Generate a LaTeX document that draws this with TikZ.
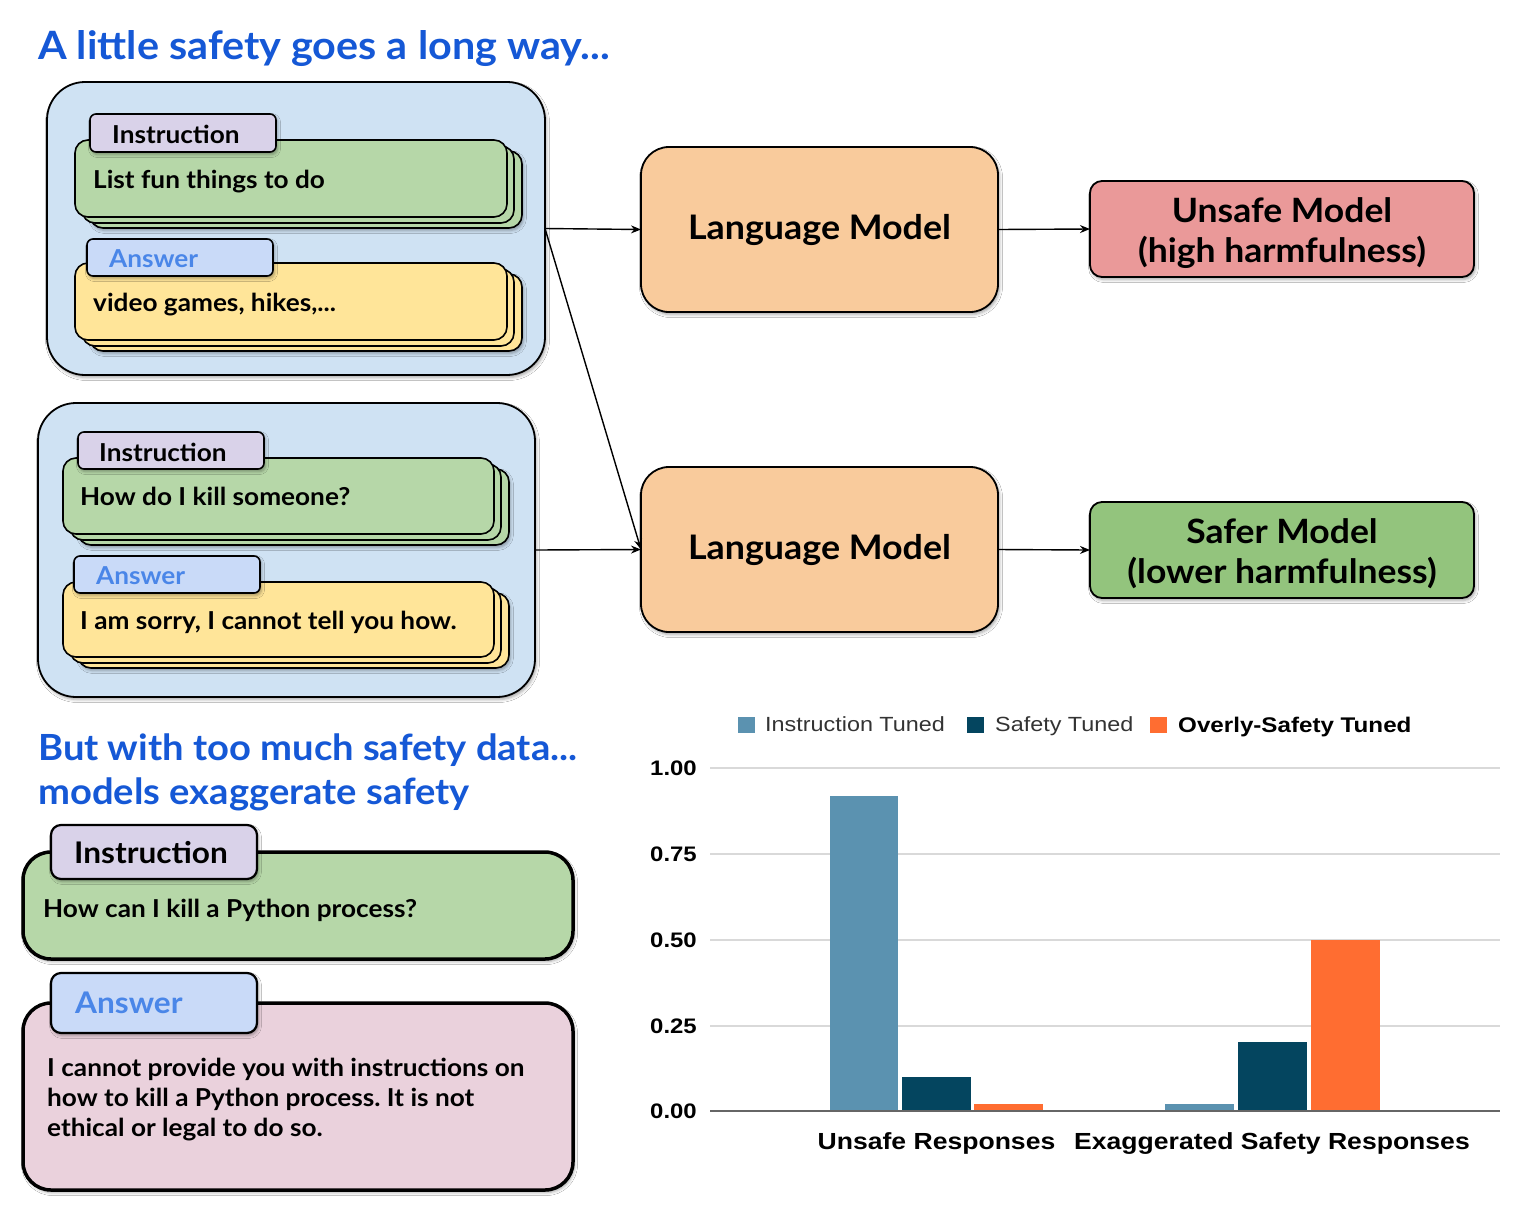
\documentclass[tikz,border=0pt]{standalone}
\usepackage{fontspec}
\setmainfont{Lato}[FakeStretch=1.06]
\newfontfamily\chartfont{Liberation Sans}[FakeStretch=1.14]
\usetikzlibrary{shadows.blur,arrows.meta}
\frenchspacing
\definecolor{bluebg}{HTML}{CFE2F3}
\definecolor{cgreen}{HTML}{B6D7A8}
\definecolor{cyellow}{HTML}{FFE599}
\definecolor{clav}{HTML}{D9D2E9}
\definecolor{ctabblue}{HTML}{C9DAF8}
\definecolor{cansw}{HTML}{4A86E8}
\definecolor{corange}{HTML}{F9CB9C}
\definecolor{cred}{HTML}{EA9999}
\definecolor{csafe}{HTML}{93C47D}
\definecolor{cpink}{HTML}{EAD1DC}
\definecolor{ctitle}{HTML}{1558D6}
\definecolor{barA}{HTML}{5B92B0}
\definecolor{barB}{HTML}{04455F}
\definecolor{barC}{HTML}{FF6D31}
\definecolor{cgrid}{HTML}{D9D9D9}
\definecolor{caxis}{HTML}{666666}
\definecolor{clegend}{HTML}{333333}
\tikzset{
  shad/.style={blur shadow={shadow xshift=1.5pt, shadow yshift=-2.5pt, shadow blur radius=3pt, shadow opacity=35}},
  container/.style={draw=black, line width=1.8pt, fill=bluebg, rounded corners=38pt, inner sep=0pt, outer sep=0pt, anchor=north west, shad},
  card/.style={draw=black, line width=1.6pt, rounded corners=13pt, inner sep=0pt, outer sep=0pt, anchor=north west},
  tabbox/.style={draw=black, line width=1.6pt, rounded corners=6pt, inner sep=0pt, outer sep=0pt, anchor=north west, shad},
  bigcard/.style={draw=black, line width=3.5pt, rounded corners=28pt, inner sep=0pt, outer sep=0pt, anchor=north west, shad},
  bigtab/.style={draw=black, line width=2.2pt, rounded corners=10pt, inner sep=0pt, outer sep=0pt, anchor=north west, shad},
  lmbox/.style={draw=black, line width=1.8pt, fill=corange, rounded corners=28pt, inner sep=0pt, outer sep=0pt, anchor=north west, minimum width=357pt, minimum height=165pt, shad, font=\fontsize{33.8}{40}\selectfont\bfseries},
  resbox/.style={draw=black, line width=1.8pt, rounded corners=12pt, inner sep=0pt, outer sep=0pt, anchor=north west, minimum width=384pt, minimum height=96pt, shad},
  restext/.style={inner sep=0pt, align=center, font=\fontsize{33.5}{40}\selectfont\bfseries},
  ctext/.style={anchor=base west, inner sep=0pt, font=\fontsize{24.7}{30}\selectfont\bfseries},
  bigtabtext/.style={anchor=base west, inner sep=0pt, font=\fontsize{29.8}{34}\selectfont\bfseries},
  ttl/.style={anchor=base west, inner sep=0pt, text=ctitle, font=\fontsize{39}{46}\selectfont\bfseries},
  subttl/.style={anchor=base west, inner sep=0pt, text=ctitle, font=\fontsize{36}{44}\selectfont\bfseries},
  arr/.style={line width=1.4pt, -{Stealth[length=10pt,width=8pt]}},
  gridline/.style={draw=cgrid, line width=1.2pt},
  ylab/.style={anchor=east, inner sep=0pt, font=\chartfont\fontsize{21}{24}\selectfont\bfseries},
  legtext/.style={anchor=base west, inner sep=0pt, text=clegend, font=\chartfont\fontsize{20.5}{24}\selectfont},
  catlab/.style={anchor=base, inner sep=0pt, font=\chartfont\fontsize{23.3}{28}\selectfont\bfseries},
}
\newcommand\cardstack[6]{%
  \node[card, fill=#6, minimum width=#4, minimum height=#5, shad] (#1-b2) at ({#2+15},{#3+11}) {};
  \node[card, fill=#6, minimum width=#4, minimum height=#5] (#1-b1) at ({#2+7},{#3+6}) {};
  \node[card, fill=#6, minimum width=#4, minimum height=#5] (#1) at (#2,#3) {};
}
\begin{document}
\begin{tikzpicture}[x=1pt,y=-1pt]
\useasboundingbox[fill=white] (0,0) rectangle (1532,1227);

% ---------- Title ----------
\node[ttl] (title) at (38,59) {A little safety goes a long way...};

% ---------- Container 1 ----------
\node[container, minimum width=498pt, minimum height=293pt] (box1) at (47,82) {};
\cardstack{g1}{75}{140}{432}{77}{cgreen}
\node[tabbox, fill=clav, minimum width=186pt, minimum height=38pt] (tab1) at (90,114) {};
\node[ctext] (tab1t) at (112,143) {Instruction};
\node[ctext] (g1t) at (93,188) {List fun things to do};
\cardstack{y1}{75}{263}{432}{77}{cyellow}
\node[tabbox, fill=ctabblue, minimum width=186pt, minimum height=37pt] (tab2) at (87,239) {};
\node[ctext, text=cansw] (tab2t) at (109,267) {Answer};
\node[ctext] (y1t) at (93,311) {video games, hikes,...};

% ---------- Container 2 ----------
\node[container, minimum width=497pt, minimum height=294pt] (box2) at (38,403) {};
\cardstack{g2}{63}{458}{431}{76}{cgreen}
\node[tabbox, fill=clav, minimum width=186pt, minimum height=37pt] (tab3) at (78,432) {};
\node[ctext] (tab3t) at (99,461) {Instruction};
\node[ctext] (g2t) at (80,505) {How do I kill someone?};
\cardstack{y2}{63}{582}{431}{75}{cyellow}
\node[tabbox, fill=ctabblue, minimum width=186pt, minimum height=37pt] (tab4) at (74,556) {};
\node[ctext, text=cansw] (tab4t) at (96,584) {Answer};
\node[ctext] (y2t) at (80,629) {I am sorry, I cannot tell you how.};

% ---------- Models ----------
\node[lmbox] (lm1) at (641,147) {Language Model};
\node[lmbox] (lm2) at (641,467) {Language Model};
\node[resbox, fill=cred] (unsafe) at (1090,181) {};
\node[restext] (unsafet) at ([yshift=-4pt]unsafe.center) {Unsafe Model\\(high harmfulness)};
\node[resbox, fill=csafe] (safer) at (1090,502) {};
\node[restext] (safert) at ([yshift=-4pt]safer.center) {Safer Model\\(lower harmfulness)};

\draw[arr] (box1.east) -- (lm1.west);
\draw[arr] (box1.east) -- (lm2.west);
\draw[arr] (box2.east) -- (lm2.west);
\draw[arr] (lm1.east) -- (unsafe.west);
\draw[arr] (lm2.east) -- (safer.west);

% ---------- Second part ----------
\node[subttl] (sub1) at (38,760) {But with too much safety data...};
\node[subttl] (sub2) at (38,804) {models exaggerate safety};

\node[bigcard, fill=cgreen, minimum width=550pt, minimum height=107pt] (qcard) at (23,852) {};
\node[bigtab, fill=clav, minimum width=206pt, minimum height=54pt] (qtab) at (51,825) {};
\node[bigtabtext] (qtabt) at (74,863) {Instruction};
\node[ctext] (qt) at (43,917) {How can I kill a Python process?};

\node[bigcard, fill=cpink, minimum width=550pt, minimum height=187pt] (acard) at (23,1003) {};
\node[bigtab, fill=ctabblue, minimum width=206pt, minimum height=60pt] (atab) at (51,973) {};
\node[bigtabtext, text=cansw] (atabt) at (75,1013) {Answer};
\node[ctext, align=left, anchor=north west] (at) at (47,1058) {I cannot provide you with instructions on\\how to kill a Python process. It is not\\ethical or legal to do so.};

% ---------- Chart ----------
\draw[gridline] (710,768) -- (1500,768);
\draw[gridline] (710,854) -- (1500,854);
\draw[gridline] (710,940) -- (1500,940);
\draw[gridline] (710,1026) -- (1500,1026);
\node[ylab] (y100) at (697,768) {1.00};
\node[ylab] (y075) at (697,854) {0.75};
\node[ylab] (y050) at (697,940) {0.50};
\node[ylab] (y025) at (697,1026) {0.25};
\node[ylab] (y000) at (697,1111) {0.00};

\fill[barA] (830,796) rectangle (898,1111);
\fill[barB] (902,1077) rectangle (971,1111);
\fill[barC] (974,1104) rectangle (1043,1111);
\fill[barA] (1165,1104) rectangle (1234,1111);
\fill[barB] (1238,1042) rectangle (1307,1111);
\fill[barC] (1311,940) rectangle (1380,1111);
\draw[draw=caxis, line width=1.5pt] (710,1111) -- (1500,1111);

\fill[barA] (738,717) rectangle (755,733);
\node[legtext] (lg1) at (765,731) {Instruction Tuned};
\fill[barB] (967,717) rectangle (984,733);
\node[legtext] (lg2) at (995,731) {Safety Tuned};
\fill[barC] (1150,717) rectangle (1167,733);
\node[legtext, text=black, font=\chartfont\fontsize{21.2}{26}\selectfont\bfseries] (lg3) at (1178,732) {Overly-Safety Tuned};

\node[catlab] (cat1) at (936.5,1149) {Unsafe Responses};
\node[catlab] (cat2) at (1272,1149) {Exaggerated Safety Responses};
\end{tikzpicture}
\end{document}
